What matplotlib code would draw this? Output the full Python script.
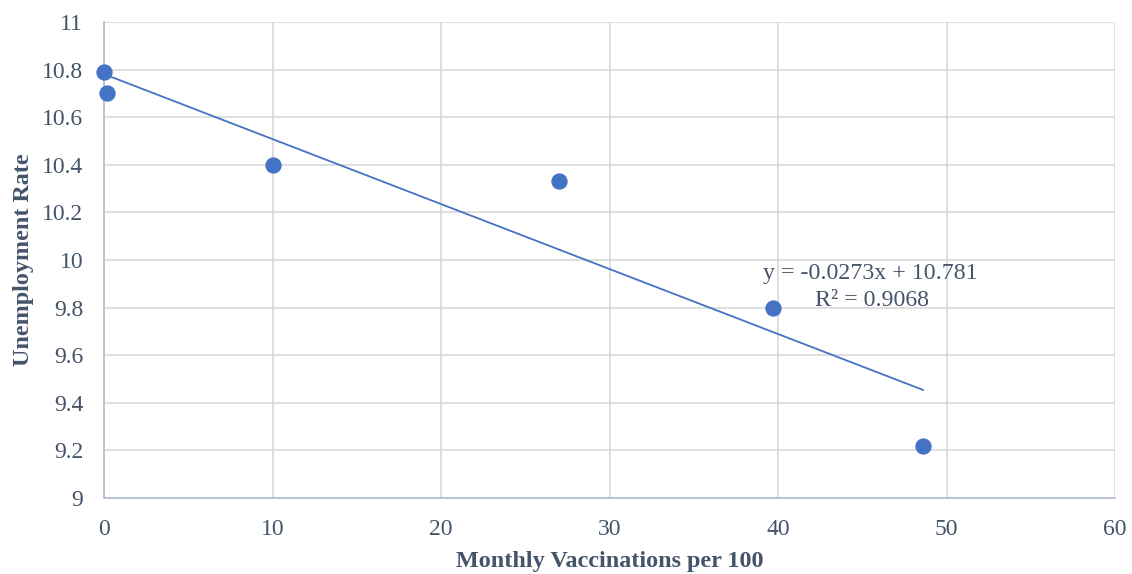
import matplotlib.pyplot as plt
import numpy as np

# data
vaccinations = [0.0, 0.2, 10.0, 27.0, 39.7, 48.6]
unemployment = [10.79, 10.70, 10.40, 10.33, 9.80, 9.22]
slope = -0.0273
intercept = 10.781
r_squared = 0.9068

x_ticks = [0, 10, 20, 30, 40, 50, 60]
y_ticks = [9, 9.2, 9.4, 9.6, 9.8, 10, 10.2, 10.4, 10.6, 10.8, 11]
y_labels = ['9', '9.2', '9.4', '9.6', '9.8', '10', '10.2', '10.4', '10.6', '10.8', '11']

plt.rcParams['font.family'] = ['Liberation Serif', 'DejaVu Serif']

fig = plt.figure(figsize=(11.32, 5.74), dpi=100)
ax = fig.add_axes([0.0919, 0.1324, 0.8931, 0.8293])

blue = '#4472C4'
text_col = '#44546a'

# trend line over the data range
xs = np.array([min(vaccinations), max(vaccinations)])
ax.plot(xs, slope * xs + intercept, color=blue, lw=1.3, zorder=2)
ax.scatter(vaccinations, unemployment, s=115, color=blue, zorder=3, clip_on=False)

ax.set_xlim(0, 60)
ax.set_ylim(9, 11)
ax.set_xticks(x_ticks)
ax.set_yticks(y_ticks)
ax.set_yticklabels(y_labels)
ax.grid(True, color='#d9d9d9', lw=1.2)
ax.set_axisbelow(True)
ax.tick_params(length=0, labelsize=17, colors=text_col, pad=15)
for s in ['top', 'right']:
    ax.spines[s].set_visible(False)
ax.spines['left'].set_color('#b4bfd0')
ax.spines['bottom'].set_color('#b4bfd0')
ax.spines['left'].set_linewidth(1.3)
ax.spines['bottom'].set_linewidth(1.3)

ax.set_xlabel('Monthly Vaccinations per 100', fontsize=17.4, fontweight='bold',
              color=text_col)
ax.set_ylabel('Unemployment Rate', fontsize=17.4, fontweight='bold',
              color=text_col)
ax.xaxis.set_label_coords(0.5, -0.111)
ax.yaxis.set_label_coords(-0.069, 0.5)

ax.text(45.5, 9.945, f'y = {slope}x + {intercept}', fontsize=17.2, color=text_col,
        ha='center', va='center')
ax.text(45.6, 9.83, f'R² = {r_squared}', fontsize=17.2, color=text_col,
        ha='center', va='center')

fig.savefig('out.png', dpi=100)
